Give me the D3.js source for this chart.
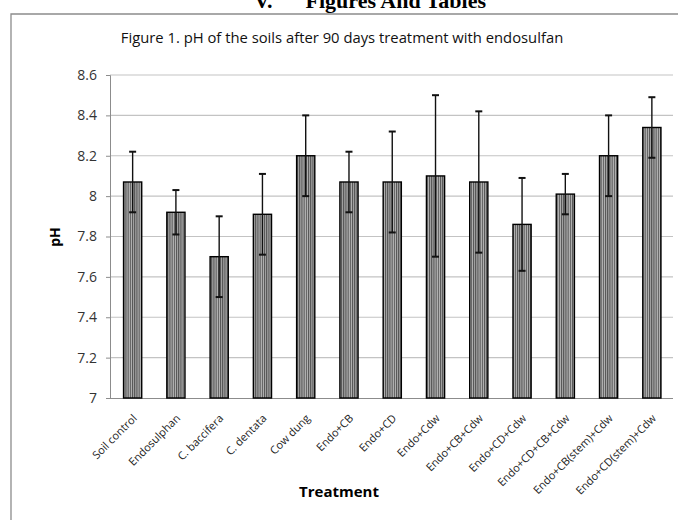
<!DOCTYPE html>
<html>
<head>
<meta charset="utf-8">
<script src="https://cdn.jsdelivr.net/npm/d3@7"></script>
<style>
  body { margin: 0; background: #fff; }
  svg { display: block; }
</style>
</head>
<body>
<svg id="chart"></svg>
<script>
// data
var treatments = ["Soil control", "Endosulphan", "C. baccifera", "C. dentata", "Cow dung",
  "Endo+CB", "Endo+CD", "Endo+Cdw", "Endo+CB+Cdw", "Endo+CD+Cdw", "Endo+CD+CB+Cdw",
  "Endo+CB(stem)+Cdw", "Endo+CD(stem)+Cdw"];
var phValues = [8.07, 7.92, 7.70, 7.91, 8.20, 8.07, 8.07, 8.10, 8.07, 7.86, 8.01, 8.20, 8.34];
var phErrors = [0.15, 0.11, 0.20, 0.20, 0.20, 0.15, 0.25, 0.40, 0.35, 0.23, 0.10, 0.20, 0.15];
var yTicks = [7, 7.2, 7.4, 7.6, 7.8, 8, 8.2, 8.4, 8.6];

var w = 678, h = 520;
var font = "Open Sans, sans-serif";

var svg = d3.select("#chart").attr("width", w).attr("height", h);

// stripe fill like the original
var defs = svg.append("defs");
var pat = defs.append("pattern")
  .attr("id", "stripes")
  .attr("patternUnits", "userSpaceOnUse")
  .attr("width", 2.2)
  .attr("height", 4);
pat.append("rect").attr("width", 2.2).attr("height", 4).attr("fill", "#b8b8b8");
pat.append("rect").attr("width", 1.1).attr("height", 4).attr("fill", "#505050");

// page header, cut off at the top as in the scan
svg.append("text")
  .attr("x", 370).attr("y", 8)
  .attr("text-anchor", "middle")
  .attr("font-family", "Liberation Serif, serif")
  .attr("font-weight", "bold")
  .attr("font-size", 22)
  .attr("xml:space", "preserve")
  .text("V.      Figures And Tables");

// chart frame (only top and left visible)
svg.append("path")
  .attr("d", "M11," + (h + 5) + "V14H" + (w + 5))
  .attr("fill", "none")
  .attr("stroke", "#8c8c8c")
  .attr("stroke-width", 1.3);

svg.append("text")
  .attr("x", 342).attr("y", 43)
  .attr("text-anchor", "middle")
  .attr("font-family", font)
  .attr("font-size", 14.8)
  .attr("fill", "#111")
  .text("Figure 1. pH of the soils after 90 days treatment with endosulfan");

var x = d3.scaleBand().domain(treatments).range([111, 673.5]).paddingInner(0.58).paddingOuter(0.29);
var y = d3.scaleLinear().domain([7, 8.6]).range([398, 75]);

// gridlines
svg.append("g")
  .selectAll("line")
  .data(yTicks.slice(1))
  .enter()
  .append("line")
  .attr("x1", 110).attr("x2", 673)
  .attr("y1", function(d) { return y(d); })
  .attr("y2", function(d) { return y(d); })
  .attr("stroke", "#c3c3c3")
  .attr("stroke-width", 1.2);

// y axis
var yAxis = svg.append("g")
  .attr("transform", "translate(110,0)")
  .call(d3.axisLeft(y).tickValues(yTicks).tickSize(4).tickPadding(9).tickFormat(d3.format("")));
yAxis.select(".domain").attr("stroke", "#8c8c8c");
yAxis.selectAll(".tick line").attr("stroke", "#8c8c8c");
yAxis.selectAll("text")
  .attr("font-family", font)
  .attr("font-size", 14)
  .attr("fill", "#333");

// x axis
var xAxis = svg.append("g")
  .attr("transform", "translate(0,398)")
  .call(d3.axisBottom(x).tickSize(0).tickPadding(0));
xAxis.select(".domain").attr("d", "M107,0.5H673").attr("stroke", "#8c8c8c");
xAxis.selectAll("text")
  .attr("font-family", font)
  .attr("font-size", 11)
  .attr("fill", "#222")
  .attr("text-anchor", "end")
  .attr("dy", 0)
  .attr("transform", "translate(5,21) rotate(-45)");

// bars
svg.append("g")
  .selectAll("rect")
  .data(phValues)
  .enter()
  .append("rect")
  .attr("x", function(d, i) { return x(treatments[i]); })
  .attr("y", function(d) { return y(d); })
  .attr("width", x.bandwidth())
  .attr("height", function(d) { return y(7) - y(d); })
  .attr("fill", "url(#stripes)")
  .attr("stroke", "#000")
  .attr("stroke-width", 1.4);

// error bars
var err = svg.append("g").attr("stroke", "#111").attr("stroke-width", 1.4);
phValues.forEach(function(v, i) {
  var cx = x(treatments[i]) + x.bandwidth() / 2;
  var top = y(v + phErrors[i]), bot = y(v - phErrors[i]);
  err.append("line").attr("x1", cx).attr("x2", cx).attr("y1", top).attr("y2", bot);
  err.append("line").attr("x1", cx - 3.5).attr("x2", cx + 3.5).attr("y1", top).attr("y2", top).attr("stroke-width", 2);
  err.append("line").attr("x1", cx - 3.5).attr("x2", cx + 3.5).attr("y1", bot).attr("y2", bot).attr("stroke-width", 2);
});

// axis titles
svg.append("text")
  .attr("transform", "translate(60,237) rotate(-90)")
  .attr("text-anchor", "middle")
  .attr("font-family", font)
  .attr("font-weight", "bold")
  .attr("font-size", 14)
  .text("pH");

svg.append("text")
  .attr("x", 339).attr("y", 497)
  .attr("text-anchor", "middle")
  .attr("font-family", font)
  .attr("font-weight", "bold")
  .attr("font-size", 15)
  .text("Treatment");
</script>
</body>
</html>
